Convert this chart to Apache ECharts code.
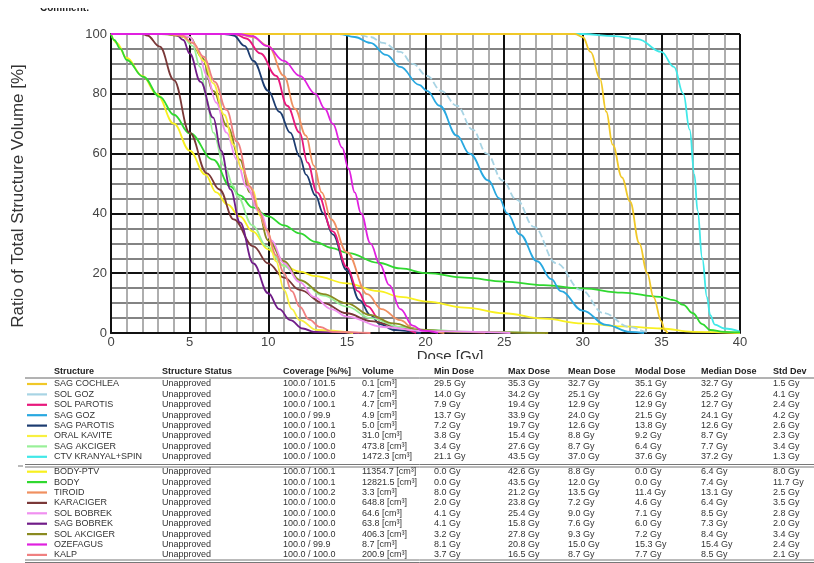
<!DOCTYPE html>
<html>
<head>
<meta charset="utf-8">
<script src="https://cdn.jsdelivr.net/npm/echarts@6/dist/echarts.min.js"></script>
<style>
  html, body { margin: 0; padding: 0; background: #fff; }
  #chart { width: 814px; height: 563px; }
</style>
</head>
<body>
<div id="chart"></div>
<script>
// DVH curves: [dose Gy, volume %]
const ctvKranyal = [[0,100],[30,100],[32,99.3],[33.5,98.3],[35,94],[35.8,89],[36.4,80],[36.8,68],[37.1,53],[37.3,41],[37.6,25],[37.9,12],[38.1,6],[38.4,2.8],[39,1.5],[40,0.5]];
const sagCochlea = [[0,100],[29.5,100],[30,99],[30.5,94],[31.1,85],[31.5,74],[31.9,63],[32.5,52],[33,44],[33.6,30],[34.1,20],[34.5,12],[35,4],[35.2,1],[35.4,0]];
const solGoz = [[0,100],[15.5,100],[16.5,99],[17.3,97],[18.4,94],[19.2,90],[20.1,86],[21,81],[22,76],[23,68],[23.9,60],[24.9,51],[25.8,44.5],[26.9,35.5],[28.3,23.4],[29.9,14.4],[31.3,6.7],[33,2],[34.1,0.4],[34.2,0]];
const sagGoz = [[0,100],[14.5,100],[15.5,99],[16.5,97],[17.5,93],[18.4,89],[19.6,83],[20.1,81],[20.9,76],[22,66],[22.8,60],[24,51],[24.7,45],[25.2,40],[26,33],[27.1,24],[28,18],[28.6,14],[30,7.5],[31.5,2.7],[33,0.4],[33.9,0]];
const solParotis = [[0,100],[7.9,100],[8.6,98.5],[9.5,93.5],[10.5,86],[11.2,76],[12,67],[12.5,57],[13.1,47],[14.1,34],[15,22],[15.7,14],[16.3,9],[17.1,4.5],[18,2],[19.4,0]];
const sagParotis = [[0,100],[7.2,100],[7.8,99.5],[8.5,96],[9.05,91],[10,81],[10.7,74],[11.4,67],[12,59],[12.4,53],[13,46],[13.5,40],[14.1,33],[15,21],[15.8,11],[16.5,6],[17.1,3],[18,1],[19.7,0]];
const oralKavite = [[0,100],[3.8,100],[4.4,99.5],[5.2,97],[5.9,91],[6.5,83.5],[7.2,73],[7.8,63],[8.3,55],[9,48],[9.5,39],[9.9,34.4],[10.5,24],[11,14.4],[11.5,8],[12,4.3],[13.1,1],[15.4,0]];
const sagAkciger = [[0,100],[3.4,100],[4.5,99.5],[5.2,96],[5.66,89],[6.1,78],[6.5,67],[7.2,56],[7.8,49],[8,46],[9,36],[9.9,29],[11,22.5],[12,17.7],[13.5,12.5],[15,8.8],[16.5,5],[18.4,2],[20,1],[23,0.4],[27.6,0]];
const bodyPtv = [[0,100],[0.36,97],[1,92],[2,86],[2.9,80],[4,70],[5,61],[6,53],[6.7,47],[7.4,43],[8.2,39],[9,34],[10,28],[11,22.5],[12,20.5],[13,19],[15,16.6],[17,14],[18.4,12.1],[20.1,10.5],[22.5,8.5],[25,6.6],[27.5,4.8],[30,3.2],[32.5,2.2],[35,1.5],[37,0.4],[40,0]];
const body = [[0,100],[0.2,98],[0.6,95],[1,91.3],[2.05,85.7],[3.1,79],[4,73],[5,66.8],[6.5,58],[7.6,49],[8.2,46],[9,42],[10,39],[11,36],[12,33.3],[13,30.5],[14,28.5],[15.1,26.7],[17,23.5],[18.4,21.6],[20.1,20],[22.5,18.5],[25,17.2],[27.5,16],[30,14.9],[32.5,13.5],[34.9,12.1],[35.8,11],[36.4,9.4],[37,6.6],[37.6,3],[38.1,1],[39,0.4],[40,0.2]];
const tiroid = [[0,100],[8,100],[9,99],[10,96],[11,86],[11.7,75],[12.4,66],[12.9,56],[13.4,47],[14,38],[15,27],[16.3,13],[17.2,8],[18.4,4.3],[19.2,1.7],[20,0.7],[21.2,0]];
const karaciger = [[0,100],[2,100],[2.3,99.5],[3.1,95.8],[4,84.6],[5,67],[6.1,53.4],[6.9,48],[7.8,38],[9.05,29],[10,23.3],[11,18.5],[12,14.4],[13.5,10],[15,6.6],[16.5,4],[18.4,2],[20,1],[22,0.4],[23.8,0]];
const solBobrek = [[0,100],[4.1,100],[5,99],[5.5,95],[6.1,86],[6.7,77],[7.35,67],[8,58],[8.6,49],[9.5,40],[10.2,31],[11,23.3],[12,17],[12.9,12.1],[14,8],[15,5.5],[17.3,2],[20,0.6],[25.4,0]];
const sagBobrek = [[0,100],[4.1,100],[4.6,98],[5,93.5],[5.7,84],[6.5,72],[7,61],[7.6,48],[8.2,37],[9.05,23.3],[10,13.3],[10.7,8],[11.4,4.3],[12.2,1.5],[12.9,0.4],[15.8,0]];
const solAkciger = [[0,100],[3.2,100],[5,99],[5.8,92],[6.5,81],[7.4,69],[8.2,58],[8.84,47],[9.3,42],[10,31],[11,24],[12,17.7],[13.5,13],[15,9.9],[16.5,6],[17.95,3.2],[19.65,1],[22,0.4],[27.8,0]];
const ozefagus = [[0,100],[8.1,100],[9,99.3],[9.9,96],[11,91],[12,86],[13,80],[13.6,75],[14.1,70],[14.7,62],[15.1,55],[15.5,47],[15.9,40],[16.5,30],[17.1,23],[17.7,16],[18.4,8],[19.2,2.5],[19.8,0.8],[20.8,0]];
const kalp = [[0,100],[3.7,100],[4.5,99.5],[5.2,97],[5.9,92.4],[6.6,84],[7.35,74.6],[8,64],[8.84,49],[9.4,41],[9.9,34.4],[10.5,26],[11,20],[11.5,14],[12,8.8],[12.6,4.5],[13.3,2],[14.1,0.4],[16.5,0]];

// table rows (same order as the report)
const structures = ['SAG COCHLEA','SOL GOZ','SOL PAROTIS','SAG GOZ','SAG PAROTIS','ORAL KAVITE','SAG AKCIGER','CTV KRANYAL+SPIN',
  'BODY-PTV','BODY','TIROID','KARACIGER','SOL BOBREK','SAG BOBREK','SOL AKCIGER','OZEFAGUS','KALP'];
const curves = [sagCochlea, solGoz, solParotis, sagGoz, sagParotis, oralKavite, sagAkciger, ctvKranyal,
  bodyPtv, body, tiroid, karaciger, solBobrek, sagBobrek, solAkciger, ozefagus, kalp];
const colors = ['#f0c828','#a8d4e4','#e8187c','#28a8e0','#1c3c70','#f8f040','#98f098','#40e8e8',
  '#f8f020','#30d830','#f09060','#7a3838','#f090f0','#701c88','#8a8a20','#e020e0','#f08080'];
const coverage = ['100.0 / 101.5','100.0 / 100.0','100.0 / 100.1','100.0 / 99.9','100.0 / 100.1','100.0 / 100.0','100.0 / 100.0','100.0 / 100.0',
  '100.0 / 100.1','100.0 / 100.1','100.0 / 100.2','100.0 / 100.0','100.0 / 100.0','100.0 / 100.0','100.0 / 100.0','100.0 / 99.9','100.0 / 100.0'];
const volumes = ['0.1','4.7','4.7','4.9','5.0','31.0','473.8','1472.3','11354.7','12821.5','3.3','648.8','64.6','63.8','406.3','8.7','200.9'];
const minDose = ['29.5','14.0','7.9','13.7','7.2','3.8','3.4','21.1','0.0','0.0','8.0','2.0','4.1','4.1','3.2','8.1','3.7'];
const maxDose = ['35.3','34.2','19.4','33.9','19.7','15.4','27.6','43.5','42.6','43.5','21.2','23.8','25.4','15.8','27.8','20.8','16.5'];
const meanDose = ['32.7','25.1','12.9','24.0','12.6','8.8','8.7','37.0','8.8','12.0','13.5','7.2','9.0','7.6','9.3','15.0','8.7'];
const modalDose = ['35.1','22.6','12.9','21.5','13.8','9.2','6.4','37.6','0.0','0.0','11.4','4.6','7.1','6.0','7.2','15.3','7.7'];
const medianDose = ['32.7','25.2','12.7','24.1','12.6','8.7','7.7','37.2','6.4','7.4','13.1','6.4','8.5','7.3','8.4','15.4','8.5'];
const stdDev = ['1.5','4.1','2.4','4.2','2.6','2.3','3.4','1.3','8.0','11.7','2.5','3.5','2.8','2.0','3.4','2.4','2.1'];
const headers = ['Structure','Structure Status','Coverage [%/%]','Volume','Min Dose','Max Dose','Mean Dose','Modal Dose','Median Dose','Std Dev'];

// draw order: later series on top
const drawOrder = [7, 8, 9, 1, 3, 4, 2, 10, 11, 6, 14, 12, 13, 5, 16, 0, 15];

const series = drawOrder.map(function (i) {
  return {
    name: structures[i],
    type: 'line',
    data: curves[i],
    showSymbol: false,
    smooth: 0.4,
    smoothMonotone: 'x',
    animation: false,
    lineStyle: { color: colors[i], width: 1.8, type: i === 1 ? [7, 3] : 'solid' },
  };
});

// axis titles, the clipped report header and the table as graphic elements
const colX = [54, 162, 283, 362, 434, 508, 568, 635, 701, 773];
const font = '9px "Liberation Sans", Arial, sans-serif';
const graphic = [
  { type: 'text', x: 18, y: 196, rotation: Math.PI / 2, z: 5,
    style: { text: 'Ratio of Total Structure Volume [%]', font: '17px "Liberation Sans", Arial', fill: '#333', align: 'center', verticalAlign: 'middle' } },
  { type: 'text', x: 450, y: 349, z: 5,
    style: { text: 'Dose [Gy]', font: '15px "Liberation Sans", Arial', fill: '#333', align: 'center', verticalAlign: 'top' } },
  { type: 'rect', shape: { x: 0, y: 359, width: 814, height: 204 }, style: { fill: '#fff' }, z: 10 },
  { type: 'text', x: 40, y: 3, z: 11, style: { text: 'Comment:', font: 'bold 10px "Liberation Sans", Arial', fill: '#222' } },
  // the report page cuts the top half of the header line
  { type: 'rect', shape: { x: 30, y: 0, width: 60, height: 8 }, style: { fill: '#fff' }, z: 12 },
  { type: 'line', shape: { x1: 25, y1: 378, x2: 814, y2: 378 }, style: { stroke: '#666', lineWidth: 1 }, z: 11 },
  { type: 'line', shape: { x1: 25, y1: 464.5, x2: 814, y2: 464.5 }, style: { stroke: '#777', lineWidth: 1 }, z: 11 },
  { type: 'line', shape: { x1: 25, y1: 467, x2: 814, y2: 467 }, style: { stroke: '#777', lineWidth: 1 }, z: 11 },
  { type: 'line', shape: { x1: 18, y1: 466, x2: 23, y2: 466 }, style: { stroke: '#777', lineWidth: 1 }, z: 11 },
  { type: 'line', shape: { x1: 25, y1: 560, x2: 814, y2: 560 }, style: { stroke: '#777', lineWidth: 1 }, z: 11 },
  { type: 'line', shape: { x1: 25, y1: 562.5, x2: 814, y2: 562.5 }, style: { stroke: '#777', lineWidth: 1 }, z: 11 },
];
headers.forEach(function (h, c) {
  graphic.push({ type: 'text', x: colX[c], y: 372, z: 11,
    style: { text: h, font: 'bold ' + font, fill: '#222', verticalAlign: 'middle' } });
});
structures.forEach(function (name, i) {
  const y = i < 8 ? 384 + i * 10.4 : 471.7 + (i - 8) * 10.4;
  graphic.push({ type: 'line', z: 11, shape: { x1: 27, y1: y, x2: 47, y2: y },
    style: { stroke: colors[i], lineWidth: 2.2 } });
  const cells = [name, 'Unapproved', coverage[i], volumes[i] + ' [cm\u00b3]',
    minDose[i] + ' Gy', maxDose[i] + ' Gy', meanDose[i] + ' Gy', modalDose[i] + ' Gy', medianDose[i] + ' Gy', stdDev[i] + ' Gy'];
  cells.forEach(function (t, c) {
    graphic.push({ type: 'text', x: colX[c], y: y, z: 11,
      style: { text: t, font: font, fill: '#333', verticalAlign: 'middle' } });
  });
});

const chart = echarts.init(document.getElementById('chart'));
chart.setOption({
  animation: false,
  backgroundColor: '#fff',
  grid: { left: 111, top: 34, right: 74, bottom: 230 },
  xAxis: {
    type: 'value', min: 0, max: 40, interval: 5,
    axisLine: { show: true, lineStyle: { color: '#111', width: 2 } },
    axisTick: { show: false },
    axisLabel: { fontSize: 13, color: '#444', fontFamily: 'Liberation Sans', margin: 3 },
    splitLine: { show: true, lineStyle: { color: '#111', width: 2 } },
    minorTick: { show: false, splitNumber: 5 },
    minorSplitLine: { show: true, lineStyle: { color: '#9a9a9a', width: 1.6 } },
  },
  yAxis: {
    type: 'value', min: 0, max: 100, interval: 20,
    axisLine: { show: true, lineStyle: { color: '#111', width: 2 } },
    axisTick: { show: false },
    axisLabel: { fontSize: 13, color: '#444', fontFamily: 'Liberation Sans', margin: 4 },
    splitLine: { show: true, lineStyle: { color: '#111', width: 2 } },
    minorTick: { show: false, splitNumber: 4 },
    minorSplitLine: { show: true, lineStyle: { color: '#5a5a5a', width: 1.6 } },
  },
  series: series,
  graphic: graphic,
});
</script>
</body>
</html>
